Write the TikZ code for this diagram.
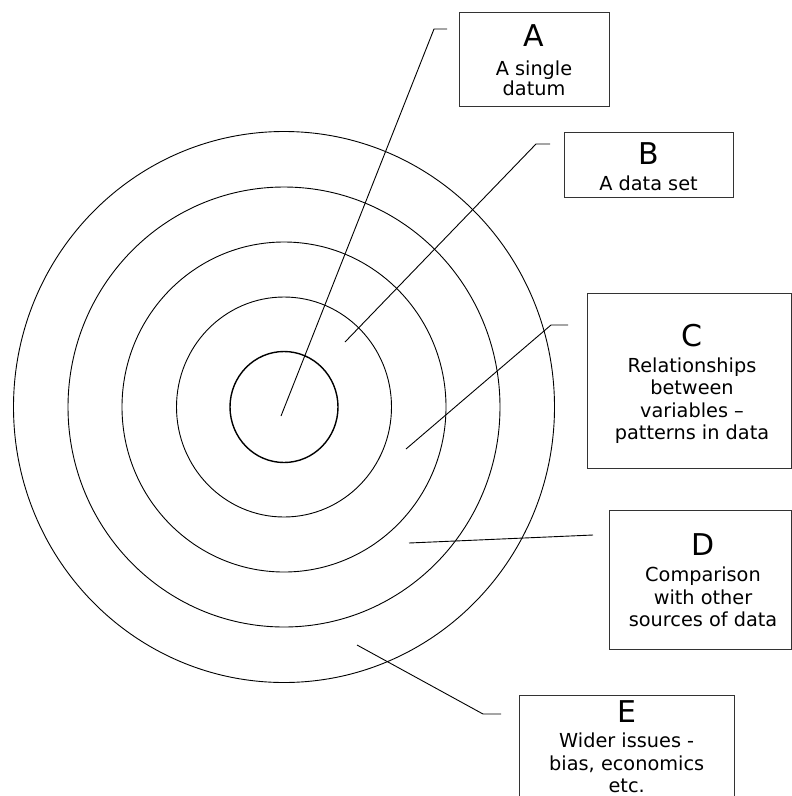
\documentclass[tikz,border=0pt]{standalone}
\usepackage{fontspec}
\setmainfont{DejaVu Sans}
\begin{document}
\begin{tikzpicture}[x=1pt,y=-1pt,
  ring/.style={line width=0.9pt, black},
  core/.style={line width=1.4pt, black},
  labelbox/.style={draw=black!80, line width=1pt, inner sep=0pt},
  bigletter/.style={anchor=base, inner sep=0pt, font=\fontsize{30}{30}\selectfont},
  desc/.style={anchor=base, inner sep=0pt, align=center, font=\fontsize{19.3}{22.5}\selectfont},
  leader/.style={line width=0.9pt, black}]
\useasboundingbox (0,0) rectangle (792,796);
% rings
\coordinate (ctr) at (284,407);
\draw[ring] (ctr) ellipse (270.5pt and 275.5pt);
\draw[ring] (ctr) ellipse (216pt and 220pt);
\draw[ring] (ctr) ellipse (162pt and 165pt);
\draw[ring] (ctr) ellipse (107.5pt and 110pt);
\draw[core] (ctr) ellipse (54pt and 55.5pt);
% boxes
\node[labelbox, minimum width=150pt, minimum height=94pt] (boxA) at (534,59) {};
\node[labelbox, minimum width=169pt, minimum height=65pt] (boxB) at (648.5,164.5) {};
\node[labelbox, minimum width=204pt, minimum height=175pt] (boxC) at (689,380.5) {};
\node[labelbox, minimum width=182pt, minimum height=139pt] (boxD) at (700,579.5) {};
\node[labelbox, minimum width=215pt, minimum height=110pt] (boxE) at (626.5,750) {};
% texts (desc nodes anchored at the baseline of their last line)
\node[bigletter] (tA) at (534,46.7) {A};
\node[desc] (dA) at (534,95) {A single\\[-2.5pt] datum};
\node[bigletter] (tB) at (648.5,164.3) {B};
\node[desc] (dB) at (648.5,190) {A data set};
\node[bigletter] (tC) at (692,346.7) {C};
\node[desc] (dC) at (692,439.5) {Relationships\\between\\variables –\\patterns in data};
\node[bigletter] (tD) at (703,555) {D};
\node[desc] (dD) at (703,626.7) {Comparison\\with other\\sources of data};
\node[bigletter] (tE) at (626.7,722.5) {E};
\node[desc] (dE) at (626.7,792.5) {Wider issues -\\bias, economics\\etc.};
% leaders
\coordinate (pA) at (281,416); \coordinate (kA) at (434,29); \coordinate (eA) at (447,29);
\coordinate (pB) at (345,342); \coordinate (kB) at (536,144); \coordinate (eB) at (550,144);
\coordinate (pC) at (406,449); \coordinate (kC) at (551,325); \coordinate (eC) at (568,325);
\coordinate (pD) at (409,543); \coordinate (eD) at (593,535);
\coordinate (pE) at (357,645); \coordinate (kE) at (483,714); \coordinate (eE) at (501,714);
\draw[leader] (pA) -- (kA) -- (eA);
\draw[leader] (pB) -- (kB) -- (eB);
\draw[leader] (pC) -- (kC) -- (eC);
\draw[leader] (pD) -- (eD);
\draw[leader] (pE) -- (kE) -- (eE);
\end{tikzpicture}
\end{document}
